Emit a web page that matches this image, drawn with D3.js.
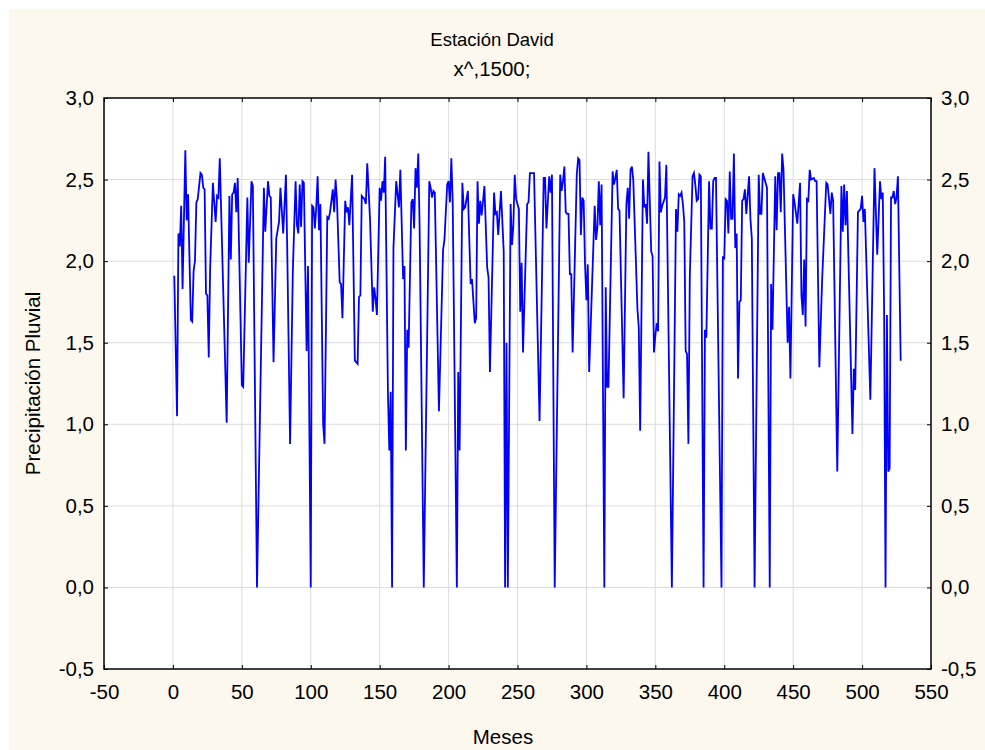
<!DOCTYPE html>
<html><head><meta charset="utf-8">
<script src="https://cdn.jsdelivr.net/npm/d3@7"></script>
<style>body{margin:0;background:#fff;} svg{display:block;font-family:"Liberation Sans",Arial,sans-serif;}</style>
</head><body><svg id="c" width="985" height="750"></svg>
<script>
const title = "Estación David";
const subtitle = "x^,1500;";
const xLabel = "Meses";
const yLabel = "Precipitación Pluvial";
const xTicks = [-50,0,50,100,150,200,250,300,350,400,450,500,550];
const yTicks = [-0.5,0,0.5,1,1.5,2,2.5,3];
const months = [1,3,4,5,6,7,9,10,11,13,14,15,16,17,18,20,21,22,23,24,25,26,27,29,31,32,33,34,39,41,42,43,44,45,46,47,50,51,54,55,57,58,61,66,67,69,70,71,73,75,77,78,80,82,83,85,87,89,90,91,92,93,94,95,97,98,100,101,102,103,104,105,106,107,109,110,112,113,114,116,117,118,119,121,122,123,125,126,127,128,130,132,134,135,136,137,139,140,141,143,145,146,147,148,150,151,152,153,154,156,157,158,159,160,162,164,165,167,168,169,170,171,173,174,175,176,177,178,179,182,186,187,188,189,190,193,196,197,199,200,201,202,203,206,207,208,210,211,212,214,215,216,217,219,220,221,222,223,224,226,228,229,230,233,234,235,236,238,240,241,242,243,245,246,247,248,249,251,252,253,254,255,257,258,259,261,262,266,269,270,271,273,274,275,277,281,282,283,284,285,286,287,288,289,290,293,294,295,296,297,298,299,300,301,302,306,307,308,309,310,311,313,314,315,316,319,320,321,322,323,324,327,329,330,331,332,333,334,337,338,339,341,342,343,344,345,347,348,349,350,351,352,353,354,355,357,358,362,365,366,367,368,369,370,371,372,373,374,375,377,378,379,380,381,382,383,385,386,387,389,390,391,392,393,394,398,399,400,401,402,403,404,405,406,407,408,409,410,411,412,413,414,415,416,418,419,420,422,425,426,427,428,430,431,433,434,435,437,438,439,440,441,442,443,446,447,448,450,451,453,455,456,457,458,459,460,461,462,463,465,466,467,469,471,474,475,477,478,479,482,485,486,487,488,489,493,494,495,497,499,500,501,502,506,509,511,513,514,515,516,517,518,519,520,521,522,523,524,525,526,528];
const values = [1.91,1.05,2.17,2.09,2.34,1.83,2.68,2.25,2.41,1.64,1.63,1.94,2.00,2.36,2.38,2.54,2.53,2.45,2.44,1.80,1.79,1.41,1.95,2.48,2.24,2.40,2.39,2.63,1.01,2.40,2.01,2.41,2.42,2.48,2.30,2.51,1.24,1.23,2.39,1.99,2.49,2.46,0.0,2.45,2.18,2.49,2.40,2.39,1.38,2.14,2.24,2.45,2.17,2.53,2.04,0.88,1.94,2.49,2.22,2.17,2.47,2.21,2.49,2.48,1.45,1.97,0.0,2.34,2.33,2.20,2.33,2.52,2.19,2.35,1.00,0.88,2.27,2.26,2.30,2.44,2.30,2.50,2.38,1.87,1.86,1.65,2.37,2.30,2.33,2.22,2.53,1.39,1.37,1.78,1.79,2.40,2.38,2.35,2.60,2.26,1.69,1.84,1.77,1.67,2.45,2.37,2.49,2.42,2.64,1.19,0.84,1.20,0.0,2.08,2.49,2.33,2.56,1.89,1.97,0.84,1.58,1.47,2.36,2.38,2.20,2.57,2.45,2.66,2.20,0.0,2.49,2.45,2.39,2.43,2.42,1.08,2.07,2.13,2.47,2.49,2.36,2.63,2.36,0.0,1.32,0.84,2.48,2.32,2.33,2.43,2.14,1.86,1.89,1.62,1.65,2.49,2.23,2.37,2.28,2.46,1.96,1.90,1.32,2.42,2.29,2.30,2.16,2.43,2.06,0.0,1.50,0.0,2.35,2.10,2.22,2.53,2.38,2.32,1.69,1.99,1.44,1.75,2.35,2.36,2.54,2.54,2.54,1.02,2.51,2.51,2.20,2.52,2.42,2.53,0.0,2.53,2.43,2.49,2.58,2.30,2.29,2.29,1.92,1.92,1.44,2.53,2.63,2.62,2.16,2.39,2.37,1.98,1.76,1.98,1.32,2.34,2.13,2.21,2.49,2.22,2.47,0.0,1.84,1.23,1.23,2.55,2.47,2.51,2.56,2.32,2.31,1.16,2.35,2.45,2.26,2.56,2.58,2.50,1.71,1.59,0.96,2.50,2.33,2.35,2.23,2.67,2.06,2.03,1.44,1.54,1.62,1.57,2.61,2.30,2.34,2.39,2.59,0.0,2.32,2.18,2.41,2.40,2.42,2.35,2.24,1.45,1.43,0.88,1.90,2.52,2.54,2.47,2.37,2.38,2.53,2.52,0.0,1.58,1.53,2.49,2.20,2.20,2.49,2.51,2.51,0.0,2.03,2.01,2.38,2.37,2.17,2.55,2.26,2.26,2.66,2.08,2.17,1.28,1.75,1.76,2.37,2.38,2.44,2.29,2.52,2.26,2.14,0.0,2.53,2.29,2.29,2.54,2.48,2.45,0.0,1.86,1.58,2.52,2.19,2.54,2.54,2.30,2.66,2.56,1.50,1.72,1.28,2.41,2.36,2.23,2.48,1.79,1.67,2.01,1.60,2.38,2.37,2.56,2.50,2.51,2.49,2.49,1.35,1.88,2.48,2.47,2.29,2.42,2.37,0.71,2.46,2.18,2.47,2.22,2.43,0.94,1.34,1.21,2.30,2.32,2.40,2.24,2.32,1.15,2.57,2.04,2.49,2.38,2.42,1.68,0.0,1.67,0.71,0.73,2.39,2.39,2.43,2.35,2.39,2.52,1.39];

const FS = "20.5px";
const fmt = d => d3.format(".1f")(d).replace(".", ",").replace("−","-");
const svg = d3.select("#c");
svg.append("rect").attr("x",9).attr("y",9).attr("width",976).attr("height",741).attr("fill","#fdf8ee");
const L=104, R=931, T=98, B=669;
const x = d3.scaleLinear().domain([-50,550]).range([L,R]);
const y = d3.scaleLinear().domain([-0.5,3]).range([B,T]);
svg.append("rect").attr("x",L).attr("y",T).attr("width",R-L).attr("height",B-T).attr("fill","#fff");
const g = svg.append("g");
g.selectAll(".vg").data(xTicks.slice(1,-1)).enter().append("line")
 .attr("x1",d=>x(d)).attr("x2",d=>x(d)).attr("y1",T).attr("y2",B).attr("stroke","#dcdcdc").attr("stroke-width",1);
g.selectAll(".hg").data(yTicks.slice(1,-1)).enter().append("line")
 .attr("y1",d=>y(d)).attr("y2",d=>y(d)).attr("x1",L).attr("x2",R).attr("stroke","#dcdcdc").attr("stroke-width",1);

const pts = months.map((m,i)=>[m,values[i]]);
svg.append("path").datum(pts).attr("fill","none").attr("stroke","#0000ff").attr("stroke-width",1.8)
 .attr("stroke-linejoin","miter").attr("d", d3.line().x(d=>x(d[0])).y(d=>y(d[1])));

const axStyle = sel => { sel.select(".domain").remove(); sel.selectAll("text").attr("fill","#000").style("font-size",FS).style("font-family","Liberation Sans, Arial, sans-serif"); sel.selectAll(".tick line").attr("stroke","#000"); };
svg.append("g").attr("transform",`translate(0,${B})`).call(d3.axisBottom(x).tickValues(xTicks).tickSize(-4).tickPadding(15).tickFormat(d=>String(d))).call(axStyle);
svg.append("g").attr("transform",`translate(0,${T})`).call(d3.axisTop(x).tickValues(xTicks).tickSize(-4).tickFormat("")).call(axStyle);
svg.append("g").attr("transform",`translate(${L},0)`).call(d3.axisLeft(y).tickValues(yTicks).tickSize(-4).tickPadding(10).tickFormat(fmt)).call(axStyle);
svg.append("g").attr("transform",`translate(${R},0)`).call(d3.axisRight(y).tickValues(yTicks).tickSize(-4).tickPadding(10).tickFormat(fmt)).call(axStyle);

svg.append("rect").attr("x",L).attr("y",T).attr("width",R-L).attr("height",B-T).attr("fill","none").attr("stroke","#000").attr("stroke-width",1.5);

const txt = (s,xx,yy,rot,fs) => { const t = svg.append("text").attr("x",xx).attr("y",yy).attr("text-anchor","middle").attr("fill","#000").style("font-size",fs||FS).text(s); if(rot) t.attr("transform",`rotate(-90,${xx},${yy})`); return t; };
txt(title, 492, 46, false, "18.5px");
txt(subtitle, 492, 76);
txt(xLabel, 503, 744);
txt(yLabel, 40, (T+B)/2, true);
</script></body></html>
